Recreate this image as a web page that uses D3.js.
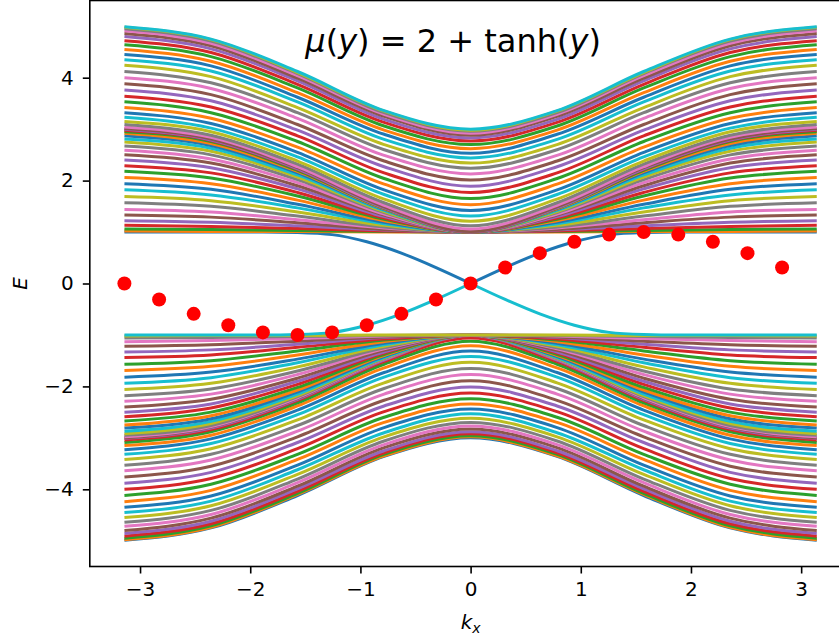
<!DOCTYPE html>
<html>
<head>
<meta charset="utf-8">
<script src="https://cdn.jsdelivr.net/npm/d3@7"></script>
<style>
  body { margin: 0; background: #fff; }
  text { font-family: "DejaVu Sans", sans-serif; fill: #000; }
</style>
</head>
<body>
<div id="chart"></div>
<script>
// kx positions (0 .. pi) at which every bulk band was read; bands are mirror-symmetric in kx
const kxSamples = [0, 0.785, 1.571, 2.356, 3.1416];

// upper-half bands that are flat (E = 1) at kx = 0, read at kxSamples
const flatCentreBands = [
  [1.00, 1.00, 1.01, 1.01, 1.02],
  [1.00, 1.01, 1.03, 1.05, 1.06],
  [1.00, 1.02, 1.07, 1.11, 1.13],
  [1.00, 1.04, 1.12, 1.19, 1.22],
  [1.00, 1.05, 1.18, 1.29, 1.33],
  [1.00, 1.08, 1.24, 1.39, 1.44],
  [1.00, 1.10, 1.31, 1.50, 1.57],
  [1.00, 1.13, 1.39, 1.61, 1.69],
  [1.00, 1.16, 1.47, 1.72, 1.82],
  [1.00, 1.19, 1.54, 1.83, 1.94],
  [1.00, 1.22, 1.62, 1.94, 2.06],
  [1.00, 1.25, 1.70, 2.05, 2.18],
  [1.00, 1.27, 1.77, 2.15, 2.29],
  [1.00, 1.30, 1.84, 2.25, 2.40],
  [1.00, 1.33, 1.90, 2.34, 2.50],
  [1.00, 1.35, 1.96, 2.42, 2.59],
  [1.00, 1.38, 2.02, 2.50, 2.67],
  [1.00, 1.40, 2.07, 2.57, 2.75],
  [1.00, 1.42, 2.11, 2.63, 2.81],
  [1.00, 1.44, 2.15, 2.68, 2.87],
  [1.00, 1.45, 2.18, 2.72, 2.92],
  [1.00, 1.46, 2.20, 2.76, 2.95],
  [1.00, 1.47, 2.22, 2.78, 2.98],
  [1.00, 1.47, 2.23, 2.79, 3.00]
];

// upper-half bands spanning 1..3 at kx = 0 and 3..5 at kx = pi
const dispersiveBands = [
  [1.01, 1.49, 2.25, 2.81, 3.01],
  [1.06, 1.52, 2.27, 2.84, 3.04],
  [1.12, 1.57, 2.32, 2.88, 3.09],
  [1.21, 1.64, 2.38, 2.95, 3.15],
  [1.31, 1.73, 2.46, 3.02, 3.23],
  [1.42, 1.82, 2.55, 3.11, 3.32],
  [1.53, 1.93, 2.65, 3.21, 3.42],
  [1.65, 2.04, 2.76, 3.32, 3.53],
  [1.77, 2.15, 2.87, 3.43, 3.64],
  [1.89, 2.27, 2.98, 3.55, 3.76],
  [2.01, 2.38, 3.09, 3.67, 3.88],
  [2.13, 2.49, 3.21, 3.79, 4.00],
  [2.24, 2.60, 3.32, 3.90, 4.12],
  [2.34, 2.70, 3.42, 4.02, 4.24],
  [2.44, 2.80, 3.53, 4.13, 4.35],
  [2.53, 2.90, 3.62, 4.23, 4.45],
  [2.62, 2.98, 3.71, 4.32, 4.55],
  [2.70, 3.06, 3.80, 4.41, 4.64],
  [2.77, 3.13, 3.87, 4.49, 4.72],
  [2.83, 3.19, 3.94, 4.56, 4.80],
  [2.88, 3.25, 3.99, 4.62, 4.86],
  [2.92, 3.29, 4.04, 4.67, 4.91],
  [2.96, 3.32, 4.08, 4.71, 4.95],
  [2.98, 3.35, 4.10, 4.74, 4.98],
  [3.00, 3.36, 4.12, 4.75, 4.99]
];

// in-gap edge band (upper of the two), kx >= 0
const edgeKx = [0, 0.314, 0.628, 0.942, 1.257, 1.571, 1.885, 2.513, 3.1416];
const edgeE = [0, 0.31, 0.59, 0.81, 0.95, 0.99, 1.00, 1.00, 1.00];

// red markers
const dotKx = [-3.142, -2.827, -2.513, -2.199, -1.885, -1.571, -1.257, -0.942, -0.628, -0.314,
  0, 0.314, 0.628, 0.942, 1.257, 1.571, 1.885, 2.199, 2.513, 2.827];
const dotE = [0, -0.31, -0.59, -0.81, -0.95, -1.00, -0.95, -0.81, -0.59, -0.31,
  0, 0.31, 0.59, 0.81, 0.95, 1.00, 0.95, 0.81, 0.59, 0.31];

const xTicks = [-3, -2, -1, 0, 1, 2, 3];
const yTicks = [-4, -2, 0, 2, 4];

const width = 839;
const height = 641;
const plotLeft = 89.8, plotRight = 851.4, plotTop = 0.5, plotBottom = 566.5;

const x = d3.scaleLinear().domain([-3.456, 3.456]).range([plotLeft, plotRight]);
const y = d3.scaleLinear().domain([-5.5, 5.5]).range([plotBottom, plotTop]);

const colors = d3.schemeCategory10;

const svg = d3.select('#chart')
  .append('svg')
  .attr('width', width)
  .attr('height', height);

svg.append('rect')
  .attr('width', width)
  .attr('height', height)
  .attr('fill', '#fff');

// build the 100 bands in index order
const mirrored = (ks, es) => {
  const pts = ks.map((k, i) => [k, es[i]]);
  return pts.slice(1).reverse().map(([k, e]) => [-k, e]).concat(pts);
};

const upper = [];
upper.push({ index: 50, segments: [
  edgeKx.map((k, i) => [k, edgeE[i]]),
  edgeKx.map((k, i) => [-k, edgeE[i]])
] });
flatCentreBands.forEach((row, i) => upper.push({ index: 51 + i, segments: [mirrored(kxSamples, row)] }));
dispersiveBands.forEach((row, i) => upper.push({ index: 75 + i, segments: [mirrored(kxSamples, row)] }));

const lower = upper.map(band => ({
  index: 99 - band.index,
  segments: band.segments.map(seg => seg.map(([k, e]) => [k, -e]))
}));

const bands = lower.concat(upper).sort((a, b) => a.index - b.index);

const line = d3.line()
  .x(d => x(d[0]))
  .y(d => y(d[1]))
  .curve(d3.curveMonotoneX);

const layer = svg.append('g').attr('id', 'bands');

bands.forEach(band => {
  band.segments.forEach(seg => {
    layer.append('path')
      .attr('d', line(seg.slice().sort((a, b) => a[0] - b[0])))
      .attr('fill', 'none')
      .attr('stroke', colors[band.index % 10])
      .attr('stroke-width', 3)
      .attr('stroke-linecap', 'butt');
  });
});

svg.append('g')
  .selectAll('circle')
  .data(dotKx)
  .enter()
  .append('circle')
  .attr('cx', d => x(d))
  .attr('cy', (d, i) => y(dotE[i]))
  .attr('r', 7)
  .attr('fill', '#ff0000');

// title inside the axes
const title = svg.append('text')
  .attr('x', x(-1.5))
  .attr('y', y(4.5))
  .attr('font-size', 32)
  .attr('xml:space', 'preserve');
title.append('tspan').attr('font-style', 'italic').text('μ');
title.append('tspan').text('(');
title.append('tspan').attr('font-style', 'italic').text('y');
title.append('tspan').text(') = 2 + tanh(');
title.append('tspan').attr('font-style', 'italic').text('y');
title.append('tspan').text(')');

// axes
const fmt = d3.format('d');

const xAxis = svg.append('g')
  .attr('transform', `translate(0,${plotBottom})`)
  .call(d3.axisBottom(x).tickValues(xTicks).tickSize(7).tickPadding(8).tickFormat(fmt));

const yAxis = svg.append('g')
  .attr('transform', `translate(${plotLeft},0)`)
  .call(d3.axisLeft(y).tickValues(yTicks).tickSize(7).tickPadding(9).tickFormat(fmt));

[xAxis, yAxis].forEach(ax => {
  ax.select('.domain').remove();
  ax.selectAll('.tick line').attr('stroke', '#000').attr('stroke-width', 1.6);
  ax.selectAll('.tick text')
    .attr('font-size', 20)
    .attr('font-family', '"DejaVu Sans", sans-serif')
    .attr('fill', '#000');
});

// spines
svg.append('rect')
  .attr('x', plotLeft)
  .attr('y', plotTop)
  .attr('width', plotRight - plotLeft)
  .attr('height', plotBottom - plotTop)
  .attr('fill', 'none')
  .attr('stroke', '#000')
  .attr('stroke-width', 1.6);

// axis labels
const xLabel = svg.append('text')
  .attr('x', x(0))
  .attr('y', 629)
  .attr('text-anchor', 'middle')
  .attr('font-size', 20);
xLabel.append('tspan').attr('font-style', 'italic').text('k');
xLabel.append('tspan').attr('font-style', 'italic').attr('font-size', 14).attr('dy', 4).text('x');

svg.append('text')
  .attr('transform', `translate(27,${y(0)}) rotate(-90)`)
  .attr('text-anchor', 'middle')
  .attr('font-size', 20)
  .attr('font-style', 'italic')
  .text('E');
</script>
</body>
</html>
